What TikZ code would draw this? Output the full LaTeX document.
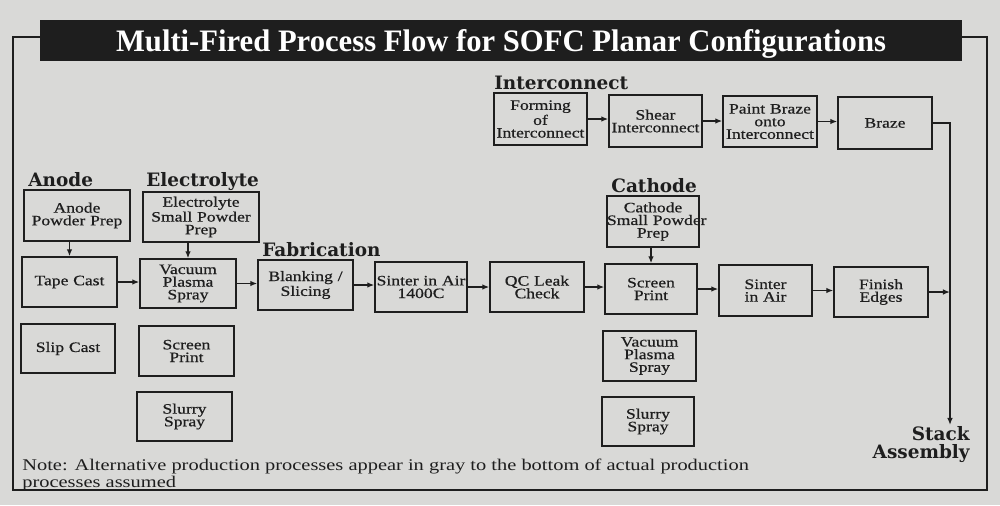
\documentclass[tikz,border=0pt]{standalone}
\usepackage{fontspec}
\setmainfont{Liberation Serif}
\newfontfamily\hdfont{DejaVu Serif}
\newfontfamily\boxfont[FakeStretch=1.22,FakeBold=0.6]{Liberation Serif}
\newfontfamily\notefont[FakeStretch=1.25]{Liberation Serif}
\usetikzlibrary{arrows.meta}
\definecolor{paper}{HTML}{D9D9D7}
\definecolor{ink}{HTML}{1E1E1E}
\newcommand{\bx}[6]{\node[boxst, text width={(#4-#2)*0.02cm}, minimum width={(#4-#2)*0.02cm}, minimum height={(#5-#3)*0.02cm}] (#1) at ({(#2+#4)/2},{(#3+#5)/2}) {#6};}
\tikzset{
  boxst/.style={draw=ink, line width=0.8pt, inner sep=0pt, align=center, text=ink,
    font=\boxfont\fontsize{8.2}{7.2}\selectfont},
  hdr/.style={text=ink, inner sep=0pt, font=\hdfont\bfseries\fontsize{10.5}{11}\selectfont},
  arr/.style={draw=ink, line width=0.8pt, -{Latex[length=4pt,width=3.2pt]}},
  ln/.style={draw=ink, line width=0.8pt}
}
\begin{document}
\begin{tikzpicture}[x=0.02cm,y=-0.02cm]
\useasboundingbox (0,0) rectangle (1000,505);
\fill[paper] (0,0) rectangle (1000,505);
% frame
\draw[ink, line width=1.5pt] (40,37) -- (13,37) -- (13,490) -- (987,490) -- (987,37) -- (962,37);
\fill[ink] (40,20) rectangle (962,61);
\node[text=white, inner sep=0pt, anchor=base] (title) at (501,51) {\resizebox{15.4cm}{0.44cm}{\bfseries Multi-Fired Process Flow for SOFC Planar Configurations}};
% headers
\node[hdr, anchor=west] (hanode) at (28,180) {Anode};
\node[hdr, anchor=west] (helec) at (146,182) {Electrolyte};
\node[hdr, anchor=west] (hfab) at (262,250) {Fabrication};
\node[hdr, anchor=west] (hint) at (494,83) {Interconnect};
\node[hdr, anchor=west] (hcat) at (611,186) {Cathode};
% boxes
\bx{aprep}{24}{190}{130}{241}{Anode\\\mbox{Powder Prep}}
\bx{tape}{22}{257}{117}{307}{\mbox{Tape Cast}}
\bx{slip}{21}{324}{115}{373}{\mbox{Slip Cast}}
\bx{eprep}{143}{192}{259}{242}{Electrolyte\\\mbox{Small Powder}\\Prep}
\bx{vps}{140}{259}{236}{308}{Vacuum\\Plasma\\Spray}
\bx{esp}{139}{326}{234}{376}{Screen\\Print}
\bx{ess}{137}{392}{232}{441}{Slurry\\Spray}
\bx{blank}{258}{260}{353}{310}{\mbox{Blanking /}\\Slicing}
\bx{sinta}{375}{262}{467}{312}{\mbox{Sinter in Air}\\1400C}
\bx{qc}{490}{262}{584}{312}{\mbox{QC Leak}\\Check}
\bx{cprep}{607}{196}{699}{247}{Cathode\\\mbox{Small Powder}\\Prep}
\bx{csp}{605}{264}{697}{314}{Screen\\Print}
\bx{sintb}{719}{265}{812}{316}{Sinter\\\mbox{in Air}}
\bx{finish}{834}{267}{928}{317}{Finish\\Edges}
\bx{cvps}{603}{331}{696}{381}{Vacuum\\Plasma\\Spray}
\bx{css}{602}{397}{694}{446}{Slurry\\Spray}
\bx{form}{494}{93}{587}{145}{Forming\\of\\\mbox{Interconnect}}
\bx{shear}{609}{95}{702}{147}{Shear\\\mbox{Interconnect}}
\bx{paint}{723}{96}{817}{147}{\mbox{Paint Braze}\\onto\\\mbox{Interconnect}}
\bx{braze}{838}{97}{932}{149}{Braze}
% stack assembly
\node[hdr, align=right, anchor=north east, font=\hdfont\bfseries\fontsize{10.5}{10.5}\selectfont] (stack) at (970,426) {Stack\\Assembly};
\coordinate (stacktop) at (950,425);
\coordinate (bend) at (950,123);
\coordinate (join) at (950,292);
% arrows
\draw[arr] (aprep.south -| tape.north) -- (tape.north);
\draw[arr] (eprep.south -| vps.north) -- (vps.north);
\draw[arr] (cprep.south -| csp.north) -- (csp.north);
\draw[arr] (tape.east) -- (tape.east -| vps.west);
\draw[arr] (vps.east) -- (vps.east -| blank.west);
\draw[arr] (blank.east) -- (blank.east -| sinta.west);
\draw[arr] (sinta.east) -- (sinta.east -| qc.west);
\draw[arr] (qc.east) -- (qc.east -| csp.west);
\draw[arr] (csp.east) -- (csp.east -| sintb.west);
\draw[arr] (sintb.east) -- (sintb.east -| finish.west);
\draw[arr] (finish.east) -- (join);
\draw[arr] (form.east) -- (form.east -| shear.west);
\draw[arr] (shear.east) -- (shear.east -| paint.west);
\draw[arr] (paint.east) -- (paint.east -| braze.west);
\draw[arr] (braze.east |- bend) -- (bend) -- (stacktop);
% note
\node[anchor=north west, align=left, inner sep=0pt, text=ink, font=\notefont\fontsize{9.3}{7.4}\selectfont] (note) at (22,459) {Note: Alternative production processes appear in gray to the bottom of actual production\\processes assumed};
\end{tikzpicture}
\end{document}
